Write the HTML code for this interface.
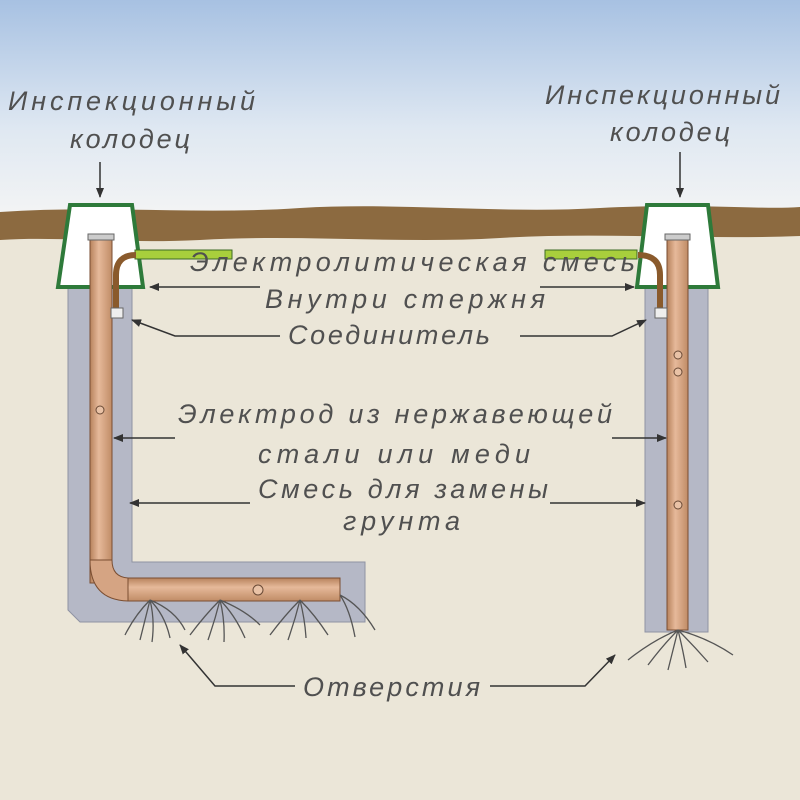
<!DOCTYPE html>
<html><head><meta charset="utf-8"><style>
html,body{margin:0;padding:0;width:800px;height:800px;overflow:hidden}
text{font-family:"Liberation Sans","DejaVu Sans",sans-serif;font-style:italic;fill:#505050;font-size:27px}
</style></head><body>
<svg width="800" height="800" viewBox="0 0 800 800" xmlns="http://www.w3.org/2000/svg">
<defs>
<linearGradient id="sky" x1="0" y1="0" x2="0" y2="1">
<stop offset="0" stop-color="#a7c1e2"/><stop offset="0.6" stop-color="#dfe8f2"/><stop offset="1" stop-color="#f3f4f4"/>
</linearGradient>
<linearGradient id="pipeV" x1="0" y1="0" x2="1" y2="0">
<stop offset="0" stop-color="#b7825c"/><stop offset="0.4" stop-color="#e6b99a"/><stop offset="1" stop-color="#c08c66"/>
</linearGradient>
<linearGradient id="pipeH" x1="0" y1="0" x2="0" y2="1">
<stop offset="0" stop-color="#b7825c"/><stop offset="0.4" stop-color="#e6b99a"/><stop offset="1" stop-color="#c08c66"/>
</linearGradient>
<marker id="ah" markerWidth="10" markerHeight="8" refX="9" refY="4" orient="auto" markerUnits="userSpaceOnUse"><path d="M0,0 L10,4 L0,8 Z" fill="#333"/></marker>
</defs>
<rect width="800" height="800" fill="#ebe6d8"/>
<rect width="800" height="215" fill="url(#sky)"/>
<path d="M0,212 C100,205 200,215 300,208 C400,202 500,214 600,208 C700,203 760,210 800,207 L800,236 C700,240 600,232 500,238 C400,244 300,234 200,240 C120,244 60,236 0,240 Z" fill="#8c6a40"/>
<path d="M68,287 L132,287 L132,562 L365,562 L365,622 L80,622 L68,610 Z" fill="#b5b8c6" stroke="#8f93a3" stroke-width="1"/>
<rect x="645" y="287" width="63" height="345" fill="#b5b8c6" stroke="#8f93a3" stroke-width="1"/>
<path d="M70,205 L132,205 L143,287 L58,287 Z" fill="#fff" stroke="#2e7a3a" stroke-width="4"/>
<path d="M647,205 L708,205 L718,287 L637,287 Z" fill="#fff" stroke="#2e7a3a" stroke-width="4"/>
<rect x="90" y="238" width="22" height="345" fill="url(#pipeV)" stroke="#7a4e32" stroke-width="1"/>
<path d="M90,560 Q90,601 130,601 L130,578 Q112,578 112,560 Z" fill="#d5a483" stroke="#7a4e32"/>
<rect x="128" y="578" width="212" height="23" fill="url(#pipeH)" stroke="#7a4e32"/>
<rect x="88" y="234" width="26" height="6" fill="#ccc" stroke="#666"/>
<rect x="667" y="238" width="21" height="392" fill="url(#pipeV)" stroke="#7a4e32"/>
<rect x="665" y="234" width="25" height="6" fill="#ccc" stroke="#666"/>
<g fill="#e9c2a6" stroke="#6a4a36"><circle cx="100" cy="410" r="4"/><circle cx="678" cy="355" r="4"/><circle cx="678" cy="372" r="4"/><circle cx="678" cy="505" r="4"/><circle cx="258" cy="590" r="5"/></g>
<rect x="135" y="250" width="97" height="9" fill="#a8cf3c" stroke="#3d6b24"/>
<rect x="545" y="250" width="92" height="9" fill="#a8cf3c" stroke="#3d6b24"/>
<path d="M136,255 Q116,255 116,275 L116,312" stroke="#8a5a2c" stroke-width="6" fill="none"/>
<path d="M638,255 Q660,255 660,275 L660,312" stroke="#8a5a2c" stroke-width="6" fill="none"/>
<rect x="111" y="308" width="12" height="10" fill="#eee" stroke="#666"/>
<rect x="655" y="308" width="12" height="10" fill="#eee" stroke="#666"/>
<g stroke="#555" stroke-width="1.3" fill="none">
<path d="M150,600 q-15,15 -25,35 M150,600 q-5,20 -10,40 M150,600 q5,20 2,42 M150,600 q15,15 20,38 M150,600 q25,10 35,30"/>
<path d="M220,600 q-15,15 -30,35 M220,600 q-5,20 -12,40 M220,600 q5,20 4,42 M220,600 q15,15 25,38 M220,600 q25,10 40,25"/>
<path d="M300,600 q-15,15 -30,35 M300,600 q-5,20 -12,40 M300,600 q5,20 6,38 M300,600 q15,15 28,35 M340,595 q20,10 35,35 M340,595 q10,15 15,42"/>
<path d="M678,630 q-25,10 -50,30 M678,630 q-15,15 -30,35 M678,630 q-5,20 -10,40 M678,630 q5,20 8,38 M678,630 q15,15 30,32 M678,630 q30,8 55,25"/>
</g>
<g stroke="#333" stroke-width="1.5" fill="none">
<line x1="100" y1="162" x2="100" y2="197" marker-end="url(#ah)"/>
<line x1="680" y1="152" x2="680" y2="197" marker-end="url(#ah)"/>
<line x1="260" y1="287" x2="150" y2="287" marker-end="url(#ah)"/>
<line x1="540" y1="287" x2="634" y2="287" marker-end="url(#ah)"/>
<polyline points="280,336 175,336 132,320" marker-end="url(#ah)"/>
<polyline points="520,336 612,336 646,320" marker-end="url(#ah)"/>
<line x1="175" y1="438" x2="114" y2="438" marker-end="url(#ah)"/>
<line x1="612" y1="438" x2="666" y2="438" marker-end="url(#ah)"/>
<line x1="250" y1="503" x2="130" y2="503" marker-end="url(#ah)"/>
<line x1="550" y1="503" x2="645" y2="503" marker-end="url(#ah)"/>
<polyline points="295,686 215,686 180,645" marker-end="url(#ah)"/>
<polyline points="490,686 585,686 615,655" marker-end="url(#ah)"/>
</g>
<text x="8" y="110" textLength="247" lengthAdjust="spacing">Инспекционный</text>
<text x="70" y="148" textLength="120" lengthAdjust="spacing">колодец</text>
<text x="545" y="104" textLength="235" lengthAdjust="spacing">Инспекционный</text>
<text x="610" y="141" textLength="120" lengthAdjust="spacing">колодец</text>
<text x="190" y="271" textLength="445" lengthAdjust="spacing">Электролитическая смесь</text>
<text x="265" y="308" textLength="280" lengthAdjust="spacing">Внутри стержня</text>
<text x="288" y="344" textLength="202" lengthAdjust="spacing">Соединитель</text>
<text x="178" y="423" textLength="434" lengthAdjust="spacing">Электрод из нержавеющей</text>
<text x="258" y="463" textLength="272" lengthAdjust="spacing">стали или меди</text>
<text x="258" y="498" textLength="290" lengthAdjust="spacing">Смесь для замены</text>
<text x="343" y="530" textLength="117" lengthAdjust="spacing">грунта</text>
<text x="303" y="696" textLength="177" lengthAdjust="spacing">Отверстия</text>
</svg>
</body></html>
